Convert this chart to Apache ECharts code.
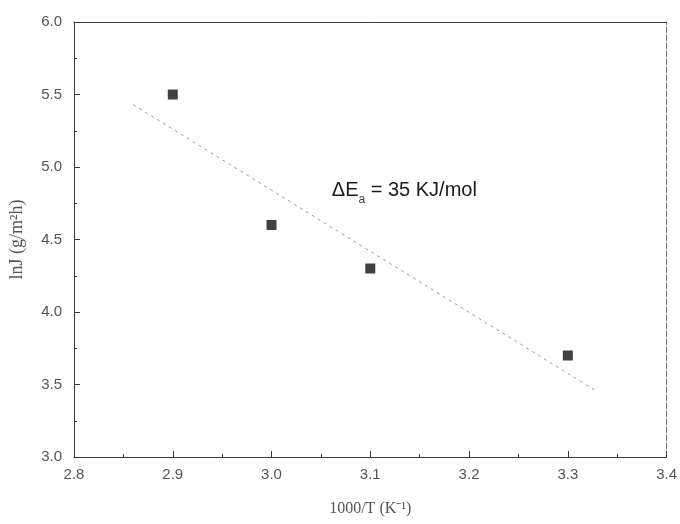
<!DOCTYPE html>
<html>
<head>
<meta charset="utf-8">
<script src="https://cdn.jsdelivr.net/npm/echarts@6/dist/echarts.min.js"></script>
<style>
  html, body { margin: 0; padding: 0; background: #fff; }
  #chart { width: 680px; height: 524px; }
</style>
</head>
<body>
<div id="chart"></div>
<script>
// measured points: 1000/T vs lnJ
var invT = [2.9, 3.0, 3.1, 3.3];
var lnJ = [5.5, 4.6, 4.3, 3.7];
// fitted line end points
var fitX = [2.86, 3.33];
var fitY = [5.43, 3.45];
// tick labels
var xTicks = ['2.8', '2.9', '3.0', '3.1', '3.2', '3.3', '3.4'];
var yTicks = ['3.0', '3.5', '4.0', '4.5', '5.0', '5.5', '6.0'];

var chart = echarts.init(document.getElementById('chart'));

var lineCol = '#3a3a3a';
var sans = '"Liberation Sans", Arial, sans-serif';
var serif = '"Liberation Serif", "Times New Roman", serif';

function pairs(xs, ys) {
  return xs.map(function (x, i) { return [x, ys[i]]; });
}

chart.setOption({
  animation: false,
  grid: { left: 73, right: 12, top: 22, bottom: 67 },
  xAxis: [
    {
      type: 'value',
      min: 2.8, max: 3.4, interval: 0.1,
      name: '1000/T (K\u207B\u00B9)',
      nameLocation: 'middle',
      nameGap: 44,
      nameTextStyle: { fontFamily: serif, fontSize: 16, color: '#555' },
      axisLine: { lineStyle: { color: lineCol, width: 1 } },
      axisTick: { inside: true, length: 6, lineStyle: { color: lineCol } },
      minorTick: { show: true, splitNumber: 2, length: 3, lineStyle: { color: lineCol } },
      splitLine: { show: false },
      axisLabel: {
        fontFamily: sans, fontSize: 15, color: '#555', margin: 10,
        formatter: function (v) {
          var i = Math.round((v - 2.8) / 0.1);
          return xTicks[i] || '';
        }
      }
    },
    {
      type: 'value', position: 'top',
      min: 2.8, max: 3.4, interval: 0.1,
      axisLine: { show: true, onZero: false, lineStyle: { color: lineCol, width: 1 } },
      axisTick: { show: false }, axisLabel: { show: false }, splitLine: { show: false }
    }
  ],
  yAxis: [
    {
      type: 'value',
      min: 3.0, max: 6.0, interval: 0.5,
      name: 'lnJ (g/m\u00B2h)',
      nameLocation: 'middle',
      nameGap: 48,
      nameRotate: 90,
      nameTextStyle: { fontFamily: serif, fontSize: 18, color: '#555' },
      axisLine: { show: true, lineStyle: { color: lineCol, width: 1 } },
      axisTick: { show: true, inside: true, length: 6, lineStyle: { color: lineCol } },
      minorTick: { show: true, splitNumber: 2, length: 3, lineStyle: { color: lineCol } },
      splitLine: { show: false },
      axisLabel: {
        fontFamily: sans, fontSize: 15, color: '#555', margin: 12,
        formatter: function (v) {
          var i = Math.round((v - 3.0) / 0.5);
          return yTicks[i] || '';
        }
      }
    },
    {
      type: 'value', position: 'right',
      min: 3.0, max: 6.0, interval: 0.5,
      axisLine: { show: true, lineStyle: { color: '#777', width: 1, type: [6, 2] } },
      axisTick: { show: false }, axisLabel: { show: false }, splitLine: { show: false }
    }
  ],
  series: [
    {
      name: 'fit',
      type: 'line',
      data: pairs(fitX, fitY),
      symbol: 'none',
      lineStyle: { color: '#9a9a9a', width: 1, type: [3, 4] },
      z: 1,
      markPoint: {
        symbol: 'circle',
        symbolSize: 0,
        data: [{ coord: [3.061, 4.84] }],
        label: {
          show: true,
          position: 'right',
          distance: 0,
          formatter: '{m|\u0394E}{s|a}{m| = 35 KJ/mol}',
          rich: {
            m: { fontFamily: sans, fontSize: 20, color: '#1a1a1a', lineHeight: 22 },
            s: { fontFamily: sans, fontSize: 12, color: '#444', verticalAlign: 'bottom', lineHeight: 30 }
          }
        }
      }
    },
    {
      name: 'lnJ',
      type: 'scatter',
      data: pairs(invT, lnJ),
      symbol: 'rect',
      symbolSize: 10,
      itemStyle: { color: '#111' },
      z: 3
    }
  ]
});
</script>
</body>
</html>
